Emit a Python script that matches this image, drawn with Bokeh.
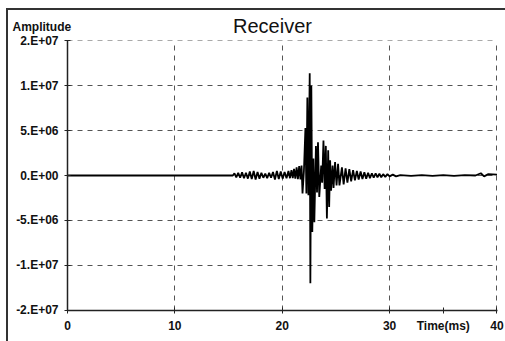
from bokeh.plotting import figure
from bokeh.models import FixedTicker, Label, ColumnDataSource
from bokeh.embed import file_html
from bokeh.resources import INLINE

# ---- data ----
time_ms = [0, 15.4,
           15.55, 15.72, 15.9, 16.08, 16.26, 16.44, 16.62, 16.8, 16.98, 17.16,
           17.34, 17.52, 17.7, 17.88, 18.06, 18.24, 18.42, 18.6, 18.78, 18.96,
           19.14, 19.32, 19.5, 19.68, 19.86, 20.04, 20.22, 20.4, 20.58, 20.72,
           20.86, 20.98, 21.1, 21.22, 21.34, 21.46, 21.58, 21.7, 21.8,
           21.89, 22.02, 22.16, 22.25, 22.34, 22.44, 22.56, 22.62, 22.71, 22.8,
           22.9, 22.99, 23.14, 23.24, 23.33, 23.45, 23.63, 23.72, 23.84, 23.95,
           24.06, 24.16, 24.28, 24.37, 24.46, 24.55, 24.69, 24.78, 24.92, 25.06,
           25.2, 25.33, 25.56, 25.72, 25.9, 26.07, 26.25, 26.42, 26.6, 26.77,
           26.95, 27.12, 27.3, 27.47, 27.65, 27.82, 28.0, 28.17, 28.35, 28.52,
           28.7, 28.87, 29.05, 29.22, 29.4, 29.6, 29.8, 30.0, 30.3, 30.6,
           31.0, 32.0, 33.0, 34.0, 35.0, 36.0, 37.0, 38.0, 38.5, 38.8, 39.2, 40.0]
amplitude = [0, 0,
             0.25e6, -0.2e6, 0.3e6, -0.25e6, 0.35e6, -0.3e6, 0.3e6, -0.35e6, 0.45e6, -0.4e6,
             0.5e6, -0.45e6, 0.4e6, -0.35e6, 0.3e6, -0.25e6, 0.2e6, -0.3e6, 0.3e6, -0.25e6,
             0.4e6, -0.45e6, 0.5e6, -0.4e6, 0.45e6, -0.35e6, 0.4e6, -0.3e6, 0.5e6, -0.3e6,
             0.6e6, -0.3e6, 0.75e6, -0.35e6, 0.9e6, -0.4e6, 1.05e6, -0.45e6, 1.1e6,
             -2.0e6, 0.5e6, 5.3e6, -2.0e6, 8.7e6, -2.2e6, 11.4e6, -12.0e6, 10.0e6, -6.3e6,
             1.9e6, -5.2e6, 3.3e6, -1.9e6, 3.7e6, -2.4e6, 1.1e6, -0.8e6, 3.9e6, -1.5e6,
             3.3e6, -4.8e6, 2.8e6, -3.5e6, 1.7e6, -1.7e6, 1.1e6, -1.4e6, 1.5e6, -1.1e6,
             1.3e6, -1.1e6, 0.9e6, -1.0e6, 0.8e6, -0.8e6, 0.7e6, -0.65e6, 0.6e6, -0.55e6,
             0.5e6, -0.45e6, 0.45e6, -0.4e6, 0.35e6, -0.35e6, 0.3e6, -0.3e6, 0.25e6, -0.25e6,
             0.25e6, -0.2e6, 0.2e6, -0.2e6, 0.15e6, -0.15e6, 0.15e6, -0.1e6, 0.1e6, -0.1e6,
             0.05e6, -0.05e6, 0.05e6, -0.05e6, 0.05e6, -0.05e6, 0.05e6, 0.0, 0.25e6, -0.1e6, 0.15e6, 0.1e6]

x_ticks = [0, 10, 20, 30, 40]
y_ticks = [-15000000, -10000000, -5000000, 0, 5000000, 10000000, 15000000]
y_tick_labels = ["-2.E+07", "-1.E+07", "-5.E+06", "0.E+00", "5.E+06", "1.E+07", "2.E+07"]

title_text = "Receiver"
y_title = "Amplitude"
x_title = "Time(ms)"
x_title_at = 35   # the x caption sits in the tick-label row, beside "30"

FONT = "Liberation Sans"

p = figure(width=505, height=341, x_range=(0, 40.05), y_range=(-15050000, 15050000),
           output_backend="svg", toolbar_location=None,
           min_border_left=67, min_border_right=8, min_border_top=40, min_border_bottom=31)
# chart-area border (top and left edges) painted behind a transparent border area
p.styles = {"background": "linear-gradient(#333333, #333333) 7px 8px / 498px 2px no-repeat, "
                          "linear-gradient(#333333, #333333) 6px 8px / 2px 333px no-repeat, #ffffff"}
p.background_fill_color = "white"
p.border_fill_color = None
p.outline_line_color = None
p.title.text = ""

src = ColumnDataSource(dict(t=time_ms, a=amplitude))
p.line("t", "a", source=src, line_color="black", line_width=1.8)

p.axis.axis_line_color = "#222222"
p.axis.axis_line_width = 1.5
p.axis.major_tick_line_color = "#222222"
p.axis.major_tick_in = 3
p.axis.major_tick_out = 3
p.axis.minor_tick_line_color = None
p.axis.major_label_text_font = FONT
p.axis.major_label_text_font_style = "bold"
p.axis.major_label_text_font_size = "12px"
p.axis.major_label_text_color = "#111111"

p.xaxis.ticker = FixedTicker(ticks=x_ticks + [x_title_at])
p.xaxis.major_label_overrides = {x_title_at: x_title}
p.xaxis.major_label_standoff = 5
p.yaxis.ticker = FixedTicker(ticks=y_ticks)
p.yaxis.major_label_overrides = dict(zip(y_ticks, y_tick_labels))
p.yaxis.major_label_standoff = 6

p.xgrid.ticker = FixedTicker(ticks=x_ticks)
p.xgrid.grid_line_color = "#555555"
p.xgrid.grid_line_dash = "5 5"
p.ygrid.grid_line_color = "#555555"
p.ygrid.grid_line_dash = "5 5"

# texts above the frame (x from frame left, y up from each label's panel slot bottom)
p.add_layout(Label(x=-55, y=14, x_units="screen", y_units="screen", text=y_title,
                   text_font=FONT, text_font_size="12px", text_font_style="bold",
                   text_align="left", text_baseline="alphabetic", text_color="#111111"),
             "above")
p.add_layout(Label(x=205, y=1, x_units="screen", y_units="screen", text=title_text,
                   text_font=FONT, text_font_size="20px", text_font_style="normal",
                   text_align="center", text_baseline="alphabetic", text_color="#111111"),
             "above")

open("out.html", "w").write(file_html(p, INLINE))
